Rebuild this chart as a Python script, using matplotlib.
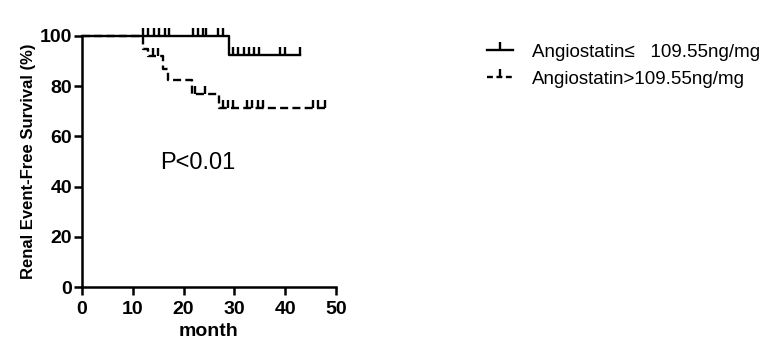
import matplotlib
matplotlib.use("Agg")
import matplotlib.pyplot as plt
from matplotlib.path import Path
from matplotlib.lines import Line2D

plt.rcParams['font.family'] = ['Liberation Sans', 'DejaVu Sans']

# Step curves (time in months, survival %)
low_times = [0, 29, 43]
low_surv = [100, 92.6, 92.6]
low_cens_t = [12, 13, 14.2, 15.2, 16.3, 17.1, 21.9, 22.8, 23.8, 24.5, 26.8, 27.8,
              29.8, 30.8, 31.8, 32.8, 33.8, 34.9, 39.0, 40.0, 43.0]

high_times = [0, 12, 13, 16, 17, 21.6, 27, 48]
high_surv = [100, 94.9, 92.2, 87.0, 82.3, 77.0, 71.3, 71.3]
high_cens_t = [14.0, 15.0, 22.2, 24.2, 27.8, 28.8, 29.8, 32.4, 33.4, 34.7, 35.7,
               45.5, 46.5, 47.8]

label_low = "Angiostatin\u2264   109.55ng/mg"
label_high = "Angiostatin>109.55ng/mg"

def surv_at(times, surv, t):
    s = surv[0]
    for ti, si in zip(times, surv):
        if ti <= t:
            s = si
    return s

tick_marker = Path([(0, 0), (0, 1)], [Path.MOVETO, Path.LINETO])
LW = 1.7
DASH = (0, (3.4, 1.8))

fig = plt.figure(figsize=(7.71, 3.42), dpi=100)
ax = fig.add_axes([82/771, 1-287/342, (336-82)/771, (287-36)/342])

ax.step(low_times, low_surv, where='post', color='black', lw=LW, clip_on=False)
ax.plot(low_cens_t, [surv_at(low_times, low_surv, t) for t in low_cens_t],
        ls='none', marker=tick_marker, ms=11, mew=LW, color='black', clip_on=False)

ax.step(high_times, high_surv, where='post', color='black', lw=LW, ls=DASH, clip_on=False)
ax.plot(high_cens_t, [surv_at(high_times, high_surv, t) for t in high_cens_t],
        ls='none', marker=tick_marker, ms=11, mew=LW, color='black', clip_on=False)

ax.set_xlim(0, 50)
ax.set_ylim(0, 100)
ax.set_xticks([0, 10, 20, 30, 40, 50])
ax.set_yticks([0, 20, 40, 60, 80, 100])
for s in ['top', 'right']:
    ax.spines[s].set_visible(False)
for s in ['left', 'bottom']:
    ax.spines[s].set_linewidth(1.8)
ax.tick_params(width=1.8, length=6, labelsize=14)
ax.tick_params(axis='y', pad=1)
ax.tick_params(axis='x', pad=4)
for lab in ax.get_xticklabels() + ax.get_yticklabels():
    lab.set_fontweight('bold')
ax.set_xlabel('month', fontsize=14, fontweight='bold', labelpad=4)
ax.set_ylabel('Renal Event-Free Survival (%)', fontsize=12, fontweight='bold', labelpad=3)
ax.text(15.4, 49.5, 'P<0.01', fontsize=17, va='center', ha='left')

h1 = Line2D([0], [0], color='black', lw=LW, marker=tick_marker, ms=11, mew=LW)
h2 = Line2D([0], [0], color='black', lw=LW, ls=(0, (2.5, 1.5)), marker=tick_marker, ms=11, mew=LW)
fig.legend([h1, h2], [label_low, label_high], loc='upper left',
           bbox_to_anchor=(470/771, 1-27/342), frameon=False, fontsize=13.5,
           handlelength=1.4, handletextpad=1.0, labelspacing=0.5)

fig.savefig('out.png', dpi=100)
